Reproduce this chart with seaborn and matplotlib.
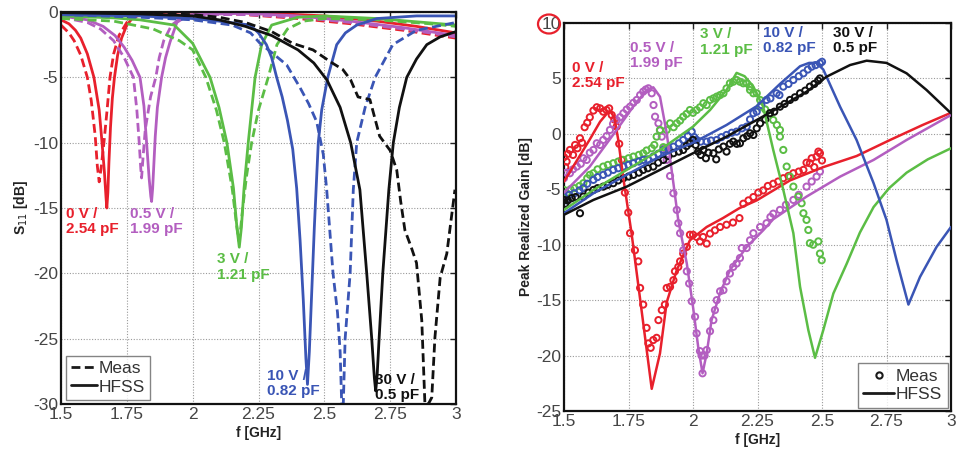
import numpy as np
import pandas as pd
import matplotlib
matplotlib.use('Agg')
import matplotlib.pyplot as plt
import seaborn as sns
from matplotlib.lines import Line2D
from matplotlib.patches import Ellipse

sns.set_theme(style='white')
plt.rcParams['font.family'] = ['Liberation Sans', 'DejaVu Sans']

# ---------------- Left panel: S11 [dB] ----------------
s11_red_hfss_x = [1.50, 1.53, 1.555, 1.575, 1.60, 1.625, 1.645, 1.655, 1.665, 1.671, 1.674, 1.678, 1.682, 1.688, 1.695, 1.703, 1.715, 1.73, 1.75, 1.77, 1.80, 1.85, 1.95, 2.10, 2.30, 2.50, 2.70, 2.85, 3.00]
s11_red_hfss_y = [-0.6, -0.9, -1.4, -2.0, -3.2, -5.0, -7.5, -9.8, -12.3, -14.2, -15.0, -13.8, -11.5, -8.8, -6.6, -5.0, -3.3, -2.0, -1.0, -0.5, -0.2, -0.05, 0.0, 0.0, -0.1, -0.3, -0.7, -1.1, -1.6]
s11_red_meas_x = [1.50, 1.53, 1.55, 1.575, 1.60, 1.615, 1.63, 1.638, 1.645, 1.652, 1.663, 1.675, 1.686, 1.70, 1.72, 1.75, 1.78, 1.82, 1.90, 2.00, 2.20, 2.40, 2.60, 2.80, 3.00]
s11_red_meas_y = [-1.0, -1.6, -2.2, -3.3, -5.0, -6.8, -9.5, -11.8, -13.0, -12.0, -10.0, -7.5, -5.0, -3.2, -1.8, -0.8, -0.3, -0.1, 0.0, 0.0, -0.2, -0.5, -0.9, -1.4, -2.0]

s11_mag_hfss_x = [1.50, 1.60, 1.66, 1.705, 1.74, 1.77, 1.80, 1.815, 1.825, 1.835, 1.841, 1.844, 1.848, 1.853, 1.858, 1.866, 1.882, 1.897, 1.914, 1.94, 1.97, 2.00, 2.20, 2.40, 2.60, 2.80, 3.00]
s11_mag_hfss_y = [-0.3, -0.6, -1.1, -1.8, -2.7, -3.7, -5.0, -7.2, -10.0, -12.8, -14.1, -14.5, -13.5, -11.5, -9.5, -7.3, -5.0, -3.5, -2.3, -0.8, -0.4, -0.2, -0.1, -0.3, -0.7, -1.2, -1.8]
s11_mag_meas_x = [1.50, 1.60, 1.65, 1.70, 1.74, 1.775, 1.788, 1.797, 1.803, 1.806, 1.812, 1.82, 1.84, 1.86, 1.873, 1.89, 1.92, 1.96, 2.00, 2.20, 2.40, 2.60, 2.80, 3.00]
s11_mag_meas_y = [-0.4, -0.8, -1.3, -2.2, -3.5, -5.0, -7.5, -10.0, -12.0, -12.7, -11.0, -9.0, -6.5, -5.0, -3.5, -2.2, -1.0, -0.4, -0.2, -0.2, -0.4, -0.8, -1.3, -1.9]

s11_grn_hfss_x = [1.50, 1.70, 1.80, 1.93, 2.00, 2.066, 2.10, 2.13, 2.155, 2.168, 2.177, 2.185, 2.195, 2.211, 2.237, 2.262, 2.30, 2.40, 2.50, 2.70, 3.00]
s11_grn_hfss_y = [-0.3, -0.45, -0.6, -1.0, -2.4, -5.0, -7.3, -10.0, -13.5, -16.5, -18.0, -16.5, -13.5, -10.0, -5.0, -2.5, -1.0, -0.4, -0.3, -0.5, -1.0]
s11_grn_meas_x = [1.50, 1.70, 1.85, 1.95, 2.00, 2.05, 2.09, 2.12, 2.15, 2.165, 2.175, 2.18, 2.19, 2.205, 2.224, 2.25, 2.287, 2.32, 2.36, 2.42, 2.50, 2.70, 2.90, 3.00]
s11_grn_meas_y = [-0.5, -0.7, -1.3, -2.2, -2.9, -5.0, -7.5, -10.0, -13.5, -16.0, -17.5, -17.0, -15.0, -12.5, -10.0, -7.5, -5.0, -2.5, -1.3, -0.7, -0.5, -0.6, -0.9, -1.1]

s11_blu_hfss_x = [1.50, 1.80, 2.00, 2.10, 2.218, 2.25, 2.28, 2.30, 2.319, 2.34, 2.36, 2.38, 2.395, 2.408, 2.42, 2.43, 2.436, 2.443, 2.452, 2.462, 2.47, 2.477, 2.49, 2.513, 2.547, 2.58, 2.623, 2.70, 2.85, 3.00]
s11_blu_hfss_y = [-0.2, -0.3, -0.5, -0.7, -1.0, -1.6, -2.5, -3.5, -5.0, -6.5, -8.3, -10.5, -13.5, -17.5, -22.0, -26.5, -28.5, -26.0, -21.5, -16.5, -13.0, -10.0, -7.5, -5.0, -2.5, -1.6, -1.0, -0.5, -0.3, -0.3]
s11_blu_meas_x = [1.50, 1.80, 2.00, 2.15, 2.22, 2.256, 2.30, 2.357, 2.408, 2.44, 2.471, 2.496, 2.509, 2.533, 2.55, 2.56, 2.566, 2.572, 2.579, 2.598, 2.61, 2.623, 2.655, 2.693, 2.76, 2.85, 2.95, 3.00]
s11_blu_meas_y = [-0.2, -0.4, -0.6, -1.0, -1.6, -2.4, -3.1, -4.05, -5.8, -7.0, -8.4, -10.9, -13.6, -20.0, -23.0, -26.0, -30.0, -30.0, -25.0, -20.0, -13.6, -10.0, -7.3, -5.0, -2.5, -1.4, -1.0, -0.8]

s11_blk_hfss_x = [1.50, 1.80, 2.00, 2.10, 2.20, 2.30, 2.40, 2.46, 2.51, 2.56, 2.60, 2.635, 2.661, 2.68, 2.69, 2.695, 2.70, 2.708, 2.722, 2.745, 2.762, 2.785, 2.813, 2.85, 2.889, 2.94, 3.00]
s11_blk_hfss_y = [-0.05, -0.15, -0.3, -0.6, -1.1, -1.8, -2.9, -3.9, -5.2, -7.3, -10.0, -13.6, -20.0, -25.0, -28.0, -29.0, -28.0, -25.0, -20.0, -13.6, -10.0, -7.3, -5.0, -3.6, -2.5, -1.9, -1.5]
s11_blk_meas_x = [1.50, 1.80, 2.00, 2.10, 2.20, 2.30, 2.38, 2.457, 2.53, 2.57, 2.60, 2.628, 2.673, 2.71, 2.75, 2.775, 2.79, 2.806, 2.83, 2.85, 2.87, 2.882, 2.895, 2.908, 2.92, 2.94, 2.965, 2.996]
s11_blk_meas_y = [0.0, -0.1, -0.2, -0.4, -0.8, -1.5, -2.4, -2.9, -3.9, -4.4, -5.2, -6.5, -6.7, -9.5, -10.6, -12.1, -14.5, -16.7, -18.0, -19.2, -23.6, -30.0, -30.0, -29.5, -24.9, -20.3, -18.5, -13.6]

# ---------------- Right panel: Peak realized gain [dB] ----------------
g_red_hfss_x = [1.50, 1.55, 1.60, 1.64, 1.665, 1.68, 1.695, 1.71, 1.73, 1.762, 1.80, 1.84, 1.872, 1.898, 1.937, 1.988, 2.053, 2.116, 2.18, 2.247, 2.376, 2.505, 2.634, 2.764, 2.89, 3.00]
g_red_hfss_y = [-4.3, -2.4, -0.5, 1.1, 1.8, 2.0, 1.5, -0.5, -4.0, -9.0, -15.8, -23.0, -19.8, -15.2, -12.3, -9.6, -8.4, -7.6, -6.7, -6.0, -4.2, -3.0, -2.0, -0.55, 0.8, 1.9]
g_red_meas_x = [1.500, 1.505, 1.51, 1.515, 1.523, 1.535, 1.543, 1.552, 1.562, 1.57, 1.58, 1.59, 1.60, 1.614, 1.627, 1.64, 1.652, 1.665, 1.675, 1.685, 1.695, 1.704, 1.714, 1.724, 1.736, 1.749, 1.756, 1.775, 1.788, 1.795, 1.807, 1.82, 1.827, 1.836, 1.846, 1.859, 1.866, 1.879, 1.891, 1.898, 1.911, 1.924, 1.93, 1.943, 1.95, 1.962, 1.976, 1.988, 2.0, 2.014, 2.027, 2.039, 2.053, 2.066, 2.085, 2.105, 2.13, 2.155, 2.18, 2.195, 2.215, 2.234, 2.253, 2.272, 2.29, 2.311, 2.33, 2.35, 2.37, 2.389, 2.41, 2.428, 2.44, 2.453, 2.46, 2.47, 2.479, 2.486, 2.492, 2.50]
g_red_meas_y = [-2.1, -3.0, -2.5, -1.8, -1.45, -1.9, -1.0, -1.3, -0.4, -0.8, 0.6, 1.0, 1.5, 2.1, 2.4, 2.3, 2.0, 2.15, 2.3, 1.7, 1.3, 0.65, -0.9, -2.35, -5.3, -7.1, -8.96, -10.5, -11.5, -13.9, -15.4, -17.5, -18.9, -19.3, -18.6, -18.4, -16.8, -15.9, -15.4, -13.9, -13.8, -13.2, -12.4, -12.0, -11.5, -10.8, -10.2, -9.1, -9.1, -9.3, -9.7, -9.3, -9.9, -9.0, -8.7, -8.4, -8.2, -8.0, -7.6, -6.3, -6.0, -5.7, -5.3, -5.1, -4.7, -4.5, -4.3, -4.0, -3.8, -3.55, -3.4, -3.25, -2.6, -2.65, -2.2, -3.0, -2.05, -1.6, -1.75, -2.4]

g_mag_hfss_x = [1.50, 1.60, 1.704, 1.768, 1.82, 1.846, 1.872, 1.898, 1.924, 1.943, 1.976, 2.00, 2.02, 2.037, 2.053, 2.072, 2.105, 2.143, 2.208, 2.272, 2.311, 2.44, 2.57, 2.70, 2.828, 3.00]
g_mag_hfss_y = [-5.3, -2.95, 0.35, 2.45, 3.96, 4.2, 3.35, 0.08, -4.45, -7.8, -11.7, -15.6, -19.2, -21.6, -19.8, -16.8, -14.35, -12.3, -10.2, -8.7, -7.7, -5.66, -3.86, -2.35, -0.55, 1.7]
g_mag_meas_x = [1.50, 1.51, 1.523, 1.535, 1.55, 1.565, 1.575, 1.588, 1.60, 1.614, 1.627, 1.64, 1.652, 1.665, 1.678, 1.69, 1.704, 1.717, 1.73, 1.743, 1.756, 1.769, 1.782, 1.795, 1.807, 1.817, 1.827, 1.84, 1.847, 1.853, 1.866, 1.872, 1.879, 1.89, 1.898, 1.911, 1.924, 1.937, 1.943, 1.95, 1.962, 1.976, 1.985, 1.995, 2.008, 2.014, 2.027, 2.033, 2.037, 2.045, 2.053, 2.066, 2.079, 2.085, 2.092, 2.105, 2.118, 2.13, 2.143, 2.156, 2.169, 2.182, 2.189, 2.208, 2.221, 2.234, 2.26, 2.285, 2.30, 2.311, 2.337, 2.36, 2.389, 2.41, 2.44, 2.46, 2.479, 2.492]
g_mag_meas_y = [-4.0, -3.5, -3.55, -3.2, -2.95, -2.7, -2.2, -2.35, -1.7, -1.45, -0.85, -1.0, -0.55, -0.2, 0.35, 0.9, 1.25, 1.5, 1.86, 2.2, 2.45, 2.8, 3.06, 3.5, 3.81, 4.0, 4.11, 3.66, 2.6, 1.55, 0.95, 0.3, -0.25, -1.3, -2.35, -3.8, -5.36, -6.86, -8.06, -8.96, -10.5, -12.4, -13.5, -15.1, -16.5, -18.0, -19.6, -20.0, -21.6, -20.0, -19.5, -17.8, -16.8, -15.9, -15.0, -14.2, -14.1, -13.3, -12.6, -12.0, -11.7, -11.2, -10.3, -10.3, -9.6, -8.96, -8.4, -8.06, -7.5, -7.2, -6.86, -6.4, -5.96, -5.5, -4.76, -4.3, -3.86, -3.4]

g_grn_hfss_x = [1.50, 1.614, 1.743, 1.872, 2.00, 2.066, 2.13, 2.169, 2.20, 2.234, 2.272, 2.311, 2.35, 2.389, 2.415, 2.447, 2.473, 2.505, 2.544, 2.596, 2.647, 2.70, 2.76, 2.828, 2.91, 3.00]
g_grn_hfss_y = [-6.86, -5.06, -3.25, -1.45, 0.65, 2.15, 3.96, 5.5, 5.2, 4.26, 2.45, -1.45, -5.06, -8.96, -13.8, -17.7, -20.2, -17.7, -14.4, -11.7, -8.9, -6.6, -4.9, -3.5, -2.3, -1.3]
g_grn_meas_x = [1.50, 1.51, 1.525, 1.54, 1.56, 1.575, 1.59, 1.60, 1.614, 1.63, 1.652, 1.67, 1.691, 1.71, 1.73, 1.75, 1.769, 1.79, 1.807, 1.82, 1.84, 1.85, 1.859, 1.872, 1.885, 1.898, 1.911, 1.925, 1.937, 1.95, 1.962, 1.975, 1.988, 2.0, 2.014, 2.027, 2.04, 2.053, 2.066, 2.079, 2.092, 2.105, 2.118, 2.13, 2.143, 2.156, 2.169, 2.182, 2.195, 2.208, 2.221, 2.221, 2.234, 2.247, 2.26, 2.26, 2.28, 2.298, 2.311, 2.325, 2.337, 2.337, 2.35, 2.363, 2.376, 2.389, 2.408, 2.421, 2.428, 2.44, 2.447, 2.453, 2.466, 2.486, 2.492, 2.499]
g_grn_meas_y = [-5.06, -5.36, -5.0, -4.9, -4.7, -4.45, -4.0, -3.7, -3.55, -3.2, -2.95, -2.8, -2.65, -2.5, -2.35, -2.2, -2.05, -1.9, -1.75, -1.5, -1.3, -1.0, -0.25, 0.35, -1.2, 0.35, 0.95, 0.6, 0.95, 1.2, 1.55, 1.8, 2.15, 1.9, 2.15, 2.4, 2.76, 2.6, 3.06, 3.2, 3.36, 3.5, 3.66, 4.1, 4.56, 4.7, 4.86, 4.7, 4.56, 4.56, 4.26, 3.96, 3.66, 3.66, 3.06, 2.45, 2.2, 1.86, 1.25, 0.8, 0.35, -0.25, -1.45, -2.95, -3.86, -4.76, -5.66, -6.26, -7.16, -7.76, -8.67, -9.86, -10.0, -9.7, -10.8, -11.4]

g_blu_hfss_x = [1.50, 1.614, 1.743, 1.872, 2.00, 2.066, 2.13, 2.247, 2.337, 2.415, 2.45, 2.479, 2.505, 2.57, 2.634, 2.70, 2.75, 2.789, 2.835, 2.88, 2.944, 3.00]
g_blu_hfss_y = [-7.16, -5.36, -3.7, -2.05, -0.8, 0.0, 0.8, 2.5, 4.5, 6.1, 6.4, 6.4, 5.8, 2.45, -0.55, -4.45, -7.76, -11.4, -15.4, -12.9, -10.2, -8.4]
g_blu_meas_x = [1.50, 1.51, 1.52, 1.54, 1.56, 1.575, 1.59, 1.614, 1.63, 1.652, 1.67, 1.691, 1.71, 1.73, 1.75, 1.769, 1.79, 1.807, 1.825, 1.846, 1.865, 1.885, 1.905, 1.924, 1.945, 1.962, 1.98, 1.995, 2.005, 2.014, 2.03, 2.053, 2.07, 2.092, 2.11, 2.13, 2.15, 2.169, 2.19, 2.208, 2.221, 2.234, 2.247, 2.265, 2.285, 2.30, 2.324, 2.335, 2.35, 2.37, 2.389, 2.41, 2.428, 2.445, 2.46, 2.475, 2.492, 2.50]
g_blu_meas_y = [-5.66, -6.0, -5.5, -5.36, -5.1, -4.9, -4.5, -4.15, -3.9, -3.7, -3.5, -3.25, -3.1, -2.95, -2.8, -2.65, -2.5, -2.35, -2.3, -2.05, -1.8, -1.45, -1.3, -1.15, -0.85, -0.55, -0.2, 0.2, -0.3, -0.55, -0.7, -0.7, -0.6, -0.55, -0.3, -0.1, 0.1, 0.2, 0.5, 0.65, 1.3, 1.86, 2.0, 2.6, 3.06, 3.2, 3.66, 3.5, 4.26, 4.5, 4.86, 5.2, 5.46, 5.8, 6.06, 6.2, 6.36, 6.5]

g_blk_hfss_x = [1.50, 1.614, 1.743, 1.872, 2.00, 2.13, 2.247, 2.35, 2.44, 2.518, 2.609, 2.673, 2.75, 2.828, 2.905, 3.00]
g_blk_hfss_y = [-7.3, -5.96, -4.76, -3.25, -1.75, -0.25, 1.25, 2.6, 3.8, 5.16, 6.21, 6.6, 6.4, 5.46, 3.96, 1.86]
g_blk_meas_x = [1.50, 1.505, 1.515, 1.53, 1.545, 1.562, 1.575, 1.595, 1.614, 1.63, 1.652, 1.67, 1.691, 1.71, 1.73, 1.75, 1.769, 1.79, 1.807, 1.825, 1.846, 1.865, 1.885, 1.905, 1.924, 1.945, 1.962, 1.975, 1.988, 2.0, 2.01, 2.02, 2.03, 2.04, 2.05, 2.06, 2.079, 2.09, 2.10, 2.118, 2.13, 2.143, 2.156, 2.17, 2.182, 2.195, 2.21, 2.221, 2.234, 2.247, 2.26, 2.28, 2.298, 2.315, 2.337, 2.355, 2.376, 2.395, 2.415, 2.435, 2.453, 2.47, 2.485, 2.492]
g_blk_meas_y = [-5.96, -6.3, -6.0, -5.8, -5.7, -7.16, -5.66, -5.3, -5.06, -4.9, -4.76, -4.6, -4.45, -4.2, -4.0, -3.85, -3.7, -3.5, -3.25, -3.1, -2.95, -2.6, -2.35, -2.0, -1.75, -1.6, -1.45, -1.1, -0.85, -0.55, -1.0, -1.6, -1.9, -1.45, -2.2, -1.7, -1.75, -2.3, -1.4, -1.15, -1.6, -0.9, -0.7, -0.9, -0.85, -0.4, -0.2, 0.05, -0.1, 0.5, 0.95, 1.3, 1.86, 2.0, 2.45, 2.7, 3.06, 3.3, 3.66, 3.9, 4.26, 4.5, 4.8, 5.0]

x_ticks = [1.5, 1.75, 2.0, 2.25, 2.5, 2.75, 3.0]
x_ticklabels = ['1.5', '1.75', '2', '2.25', '2.5', '2.75', '3']
s11_yticks = [0, -5, -10, -15, -20, -25, -30]
gain_yticks = [10, 5, 0, -5, -10, -15, -20, -25]

labels_text = ['0 V /\n2.54 pF', '0.5 V /\n1.99 pF', '3 V /\n1.21 pF', '10 V /\n0.82 pF', '30 V /\n0.5 pF']

RED = '#e8202c'
MAG = '#b35ec0'
GRN = '#5bbd45'
BLU = '#3a55b5'
BLK = '#111111'
colors = [RED, MAG, GRN, BLU, BLK]

left_curves = [
    (s11_red_hfss_x, s11_red_hfss_y, s11_red_meas_x, s11_red_meas_y),
    (s11_mag_hfss_x, s11_mag_hfss_y, s11_mag_meas_x, s11_mag_meas_y),
    (s11_grn_hfss_x, s11_grn_hfss_y, s11_grn_meas_x, s11_grn_meas_y),
    (s11_blu_hfss_x, s11_blu_hfss_y, s11_blu_meas_x, s11_blu_meas_y),
    (s11_blk_hfss_x, s11_blk_hfss_y, s11_blk_meas_x, s11_blk_meas_y),
]
right_curves = [
    (g_red_hfss_x, g_red_hfss_y, g_red_meas_x, g_red_meas_y),
    (g_mag_hfss_x, g_mag_hfss_y, g_mag_meas_x, g_mag_meas_y),
    (g_grn_hfss_x, g_grn_hfss_y, g_grn_meas_x, g_grn_meas_y),
    (g_blu_hfss_x, g_blu_hfss_y, g_blu_meas_x, g_blu_meas_y),
    (g_blk_hfss_x, g_blk_hfss_y, g_blk_meas_x, g_blk_meas_y),
]

# label anchor positions (top-left of text) in data coords
left_label_pos = [(1.519, -14.9), (1.762, -14.9), (2.094, -18.4), (2.283, -27.3), (2.693, -27.6)]
right_label_pos = [(1.531, 6.6), (1.756, 8.4), (2.027, 9.6), (2.271, 9.75), (2.543, 9.75)]

fig = plt.figure(figsize=(9.59, 4.57), dpi=100)
ax1 = fig.add_axes([61 / 959, 1 - 404 / 457, 395 / 959, 392 / 457])
ax2 = fig.add_axes([564 / 959, 1 - 411 / 457, 387 / 959, 388 / 457])

dash = (0, (3.2, 1.6))
for c, (hx, hy, mx, my) in zip(colors, left_curves):
    sns.lineplot(x=hx, y=hy, ax=ax1, color=c, lw=2.0, estimator=None, sort=False)
    sns.lineplot(x=mx, y=my, ax=ax1, color=c, lw=2.0, linestyle=dash, estimator=None, sort=False)

for c, (hx, hy, mx, my) in zip(colors, right_curves):
    sns.scatterplot(x=mx, y=my, ax=ax2, marker='o', s=20, facecolors='none', edgecolor=c, linewidth=1.4, zorder=3)
    sns.lineplot(x=hx, y=hy, ax=ax2, color=c, lw=1.8, estimator=None, sort=False, zorder=4)

tick_color = '#454545'
for ax, yt, ylim in [(ax1, s11_yticks, (-30, 0)), (ax2, gain_yticks, (-25, 10))]:
    ax.set_xlim(1.5, 3.0)
    ax.set_ylim(*ylim)
    ax.set_xticks(x_ticks)
    ax.set_xticklabels(x_ticklabels)
    ax.set_yticks(yt)
    ax.set_yticklabels([str(v) for v in yt])
    ax.grid(True, linestyle=(0, (1, 1.5)), color='#9a9a9a', lw=0.8)
    ax.tick_params(direction='in', top=True, right=True, length=4, width=1,
                   labelsize=12.5, labelcolor=tick_color, color='#222222', pad=2)
    for sp in ax.spines.values():
        sp.set_color('#111111')
        sp.set_linewidth(1.6)
    ax.set_xlabel('f [GHz]', fontsize=10, fontweight='bold', color='#222222', labelpad=3)

ax1.set_ylabel('S$_{11}$ [dB]', fontsize=10, fontweight='bold', color='#222222', labelpad=2)
ax2.set_ylabel('Peak Realized Gain [dB]', fontsize=10, fontweight='bold', color='#222222', labelpad=2)

for ax, pos in [(ax1, left_label_pos), (ax2, right_label_pos)]:
    for c, t, (xx, yy) in zip(colors, labels_text, pos):
        ax.text(xx, yy, t, color=c, fontsize=11, fontweight='bold', ha='left', va='top',
                linespacing=1.15, zorder=6)

leg1 = ax1.legend(handles=[Line2D([], [], color='k', lw=2, linestyle=dash),
                           Line2D([], [], color='k', lw=2)],
                  labels=['Meas', 'HFSS'], loc='lower left', bbox_to_anchor=(0.004, 0.002),
                  fontsize=12.5, frameon=True, fancybox=False, handlelength=1.5,
                  handletextpad=0.1, borderpad=0.3, labelspacing=0.2, borderaxespad=0.2)
leg1.get_frame().set_edgecolor('#666666')
leg1.get_frame().set_linewidth(1.0)
for t in leg1.get_texts():
    t.set_color('#333333')

leg2 = ax2.legend(handles=[Line2D([], [], color='k', lw=0, marker='o', markersize=4.5,
                                  markerfacecolor='none', markeredgewidth=1.5),
                           Line2D([], [], color='k', lw=2)],
                  labels=['Meas', 'HFSS'], loc='lower right', bbox_to_anchor=(1.0, 0.0),
                  fontsize=12.5, frameon=True, fancybox=False, handlelength=1.8,
                  handletextpad=0.1, borderpad=0.3, labelspacing=0.2, borderaxespad=0.2)
leg2.get_frame().set_edgecolor('#666666')
leg2.get_frame().set_linewidth(1.0)
for t in leg2.get_texts():
    t.set_color('#333333')

fig.patches.append(Ellipse((549 / 959, 1 - 24 / 457), 22 / 959, 19 / 457,
                           transform=fig.transFigure, fill=False, ec='#e8202c', lw=1.6))

fig.savefig('out.png', dpi=100, facecolor='white')
